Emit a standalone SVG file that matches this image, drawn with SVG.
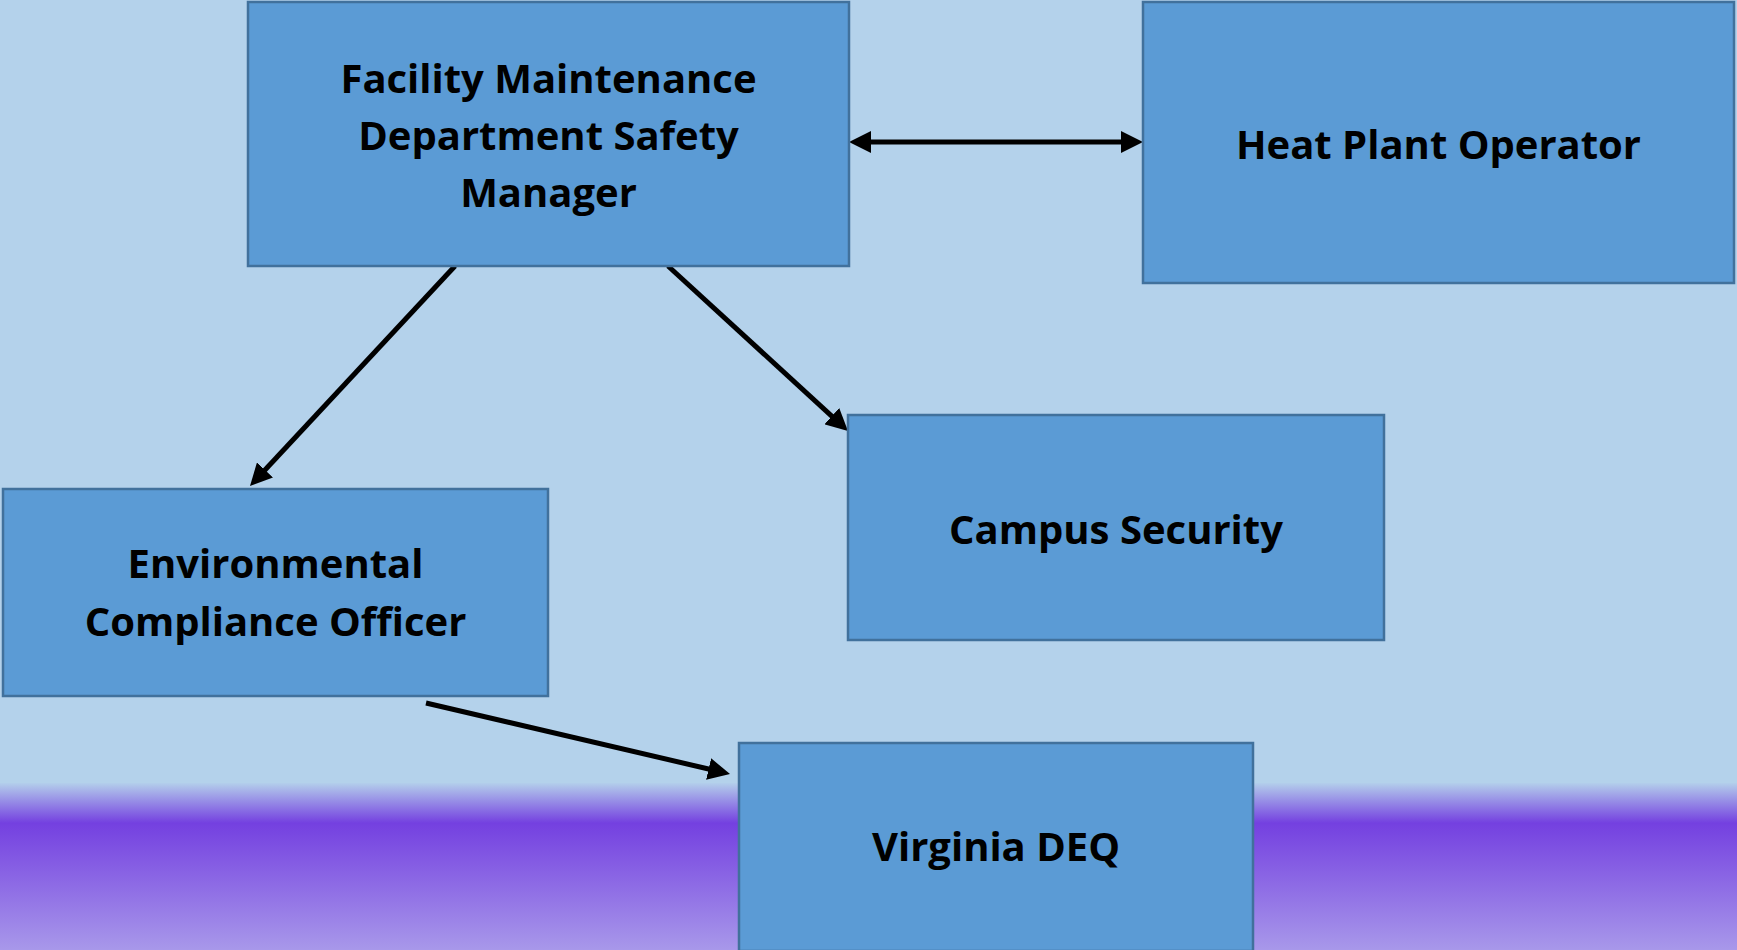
<svg xmlns="http://www.w3.org/2000/svg" width="1737" height="950" viewBox="0 0 1737 950">
<style>
.box{fill:#5B9BD5;stroke:#41719C;stroke-width:2.5}
.lbl{font-family:"Open Sans","Liberation Sans",sans-serif;font-weight:bold;font-size:40px;fill:#000;text-anchor:middle}
.conn{stroke:#000;stroke-width:5;fill:none}
</style>
<defs>
<linearGradient id="band" x1="0" y1="0" x2="0" y2="1">
<stop offset="0" stop-color="#B3CFEB"/>
<stop offset="0.04" stop-color="#A9B6E9"/>
<stop offset="0.24" stop-color="#7440E0"/>
<stop offset="1" stop-color="#A898EA"/>
</linearGradient>
<marker id="ah" viewBox="0 0 22 22" refX="11" refY="11" markerWidth="22" markerHeight="22" markerUnits="userSpaceOnUse" orient="auto-start-reverse">
<path d="M0,0 L22,11 L0,22 z" fill="#000"/>
</marker>
</defs>
<rect x="0" y="0" width="1737" height="950" fill="#B4D2EB"/>
<rect x="0" y="783" width="1737" height="167" fill="url(#band)"/>
<g id="connectors">
<line class="conn" x1="860" y1="142" x2="1132" y2="142" marker-start="url(#ah)" marker-end="url(#ah)"/>
<line class="conn" x1="455" y1="266" x2="257.5" y2="478" marker-end="url(#ah)"/>
<line class="conn" x1="668" y1="266" x2="839.9" y2="423.6" marker-end="url(#ah)"/>
<line class="conn" x1="426" y1="703" x2="719.3" y2="771.5" marker-end="url(#ah)"/>
</g>
<g id="node-facility">
<rect class="box" x="248" y="2" width="601" height="264"/>
<text class="lbl" x="548.5" y="93">Facility Maintenance</text>
<text class="lbl" x="548.5" y="150">Department Safety</text>
<text class="lbl" x="548.5" y="207">Manager</text>
</g>
<g id="node-heat">
<rect class="box" x="1143" y="2" width="591" height="281"/>
<text class="lbl" x="1438.5" y="159">Heat Plant Operator</text>
</g>
<g id="node-campus">
<rect class="box" x="848" y="415" width="536" height="225"/>
<text class="lbl" x="1116" y="544">Campus Security</text>
</g>
<g id="node-env">
<rect class="box" x="3" y="489" width="545" height="207"/>
<text class="lbl" x="275.5" y="578">Environmental</text>
<text class="lbl" x="275.5" y="636">Compliance Officer</text>
</g>
<g id="node-deq">
<rect class="box" x="739" y="743" width="514" height="208"/>
<text class="lbl" x="996" y="861">Virginia DEQ</text>
</g>
</svg>
